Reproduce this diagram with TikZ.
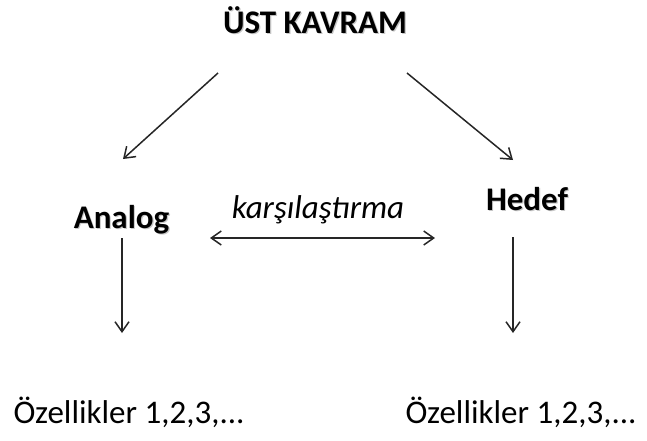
\documentclass[tikz,border=0pt]{standalone}
\usepackage{fontspec}
\setmainfont{Carlito}
\usetikzlibrary{arrows.meta}

\tikzset{
    lbl/.style={inner sep=0pt, anchor=base, font=\fontsize{33}{38}\selectfont},
    head/.style={lbl, font=\fontsize{33}{38}\selectfont\bfseries},
    shade/.style={head, text=black!22},
    barb/.tip={Straight Barb[length=10pt,width=14pt,line width=1.5pt]},
    link/.style={line width=1.5pt, black!85, -barb}
}

\begin{document}
\begin{tikzpicture}[x=1pt,y=-1pt]
                    \useasboundingbox (0,0) rectangle (647,440);

                    % shadows of the bold labels
                    \node[shade] (ust-s) at (316.2,34.2) {ÜST KAVRAM};
                    \node[shade] (analog-s) at (122.7,229.2) {Analog};
                    \node[shade] (hedef-s) at (528.2,211.2) {Hedef};

                    \node[head] (ust) at (315,33) {ÜST KAVRAM};
                    \node[head] (analog) at (121.5,228) {Analog};
                    \node[head] (hedef) at (527,210) {Hedef};
                    \node[lbl, font=\fontsize{33}{38}\selectfont\itshape] (kars) at (318,218) {karşılaştırma};

                    \node[lbl] (oz1) at (129,423) {Özellikler 1,2,3,...};
                    \node[lbl] (oz2) at (521,423) {Özellikler 1,2,3,...};

                    % ust kavram -> analog / hedef
                    \coordinate (a1) at (218,73);
                    \coordinate (a2) at (123,159);
                    \draw[link] (a1) -- (a2);

                    \coordinate (b1) at (407,73);
                    \coordinate (b2) at (513,160);
                    \draw[link] (b1) -- (b2);

                    % karsilastirma
                    \coordinate (c1) at (210,238);
                    \coordinate (c2) at (435,238);
                    \draw[link, barb-barb] (c1) -- (c2);

                    % ozellikler
                    \coordinate (d1) at (122,238);
                    \coordinate (d2) at (122,333);
                    \draw[link] (d1) -- (d2);

                    \coordinate (e1) at (513,237);
                    \coordinate (e2) at (513,333);
                    \draw[link] (e1) -- (e2);

                \end{tikzpicture}
\end{document}
